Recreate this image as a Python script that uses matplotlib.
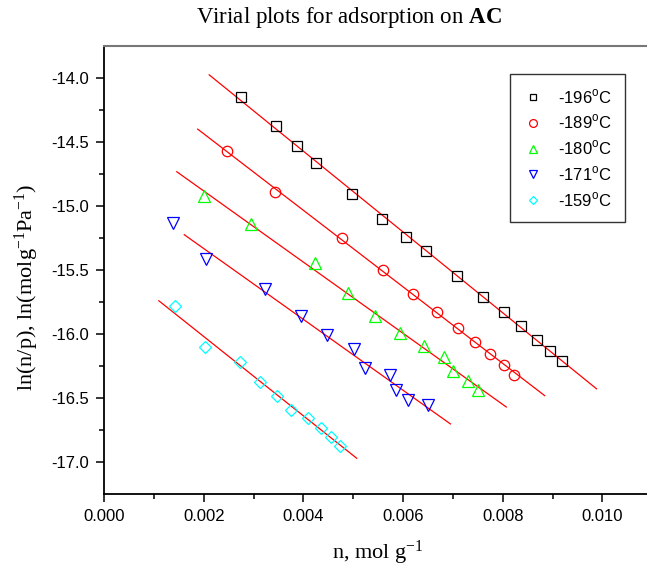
import numpy as np
import matplotlib
matplotlib.use('Agg')
import matplotlib.pyplot as plt

plt.rcParams['font.family'] = 'Liberation Sans'
plt.rcParams['mathtext.fontset'] = 'custom'
plt.rcParams['mathtext.rm'] = 'Liberation Serif'
plt.rcParams['mathtext.bf'] = 'Liberation Serif:bold'
plt.rcParams['mathtext.sf'] = 'Liberation Sans'

# data: n (mol/g) and ln(n/p)
n_196 = [0.00275, 0.00345, 0.00388, 0.00425, 0.00498, 0.00557, 0.00606, 0.00645,
         0.00709, 0.00761, 0.00802, 0.00837, 0.00869, 0.00895, 0.00919]
ln_196 = [-14.150, -14.375, -14.534, -14.661, -14.906, -15.098, -15.239, -15.354,
          -15.549, -15.708, -15.830, -15.940, -16.044, -16.130, -16.208]

n_189 = [0.00246, 0.00344, 0.00477, 0.00559, 0.00619, 0.00668, 0.00711, 0.00745,
         0.00775, 0.00802, 0.00822]
ln_189 = [-14.570, -14.891, -15.250, -15.502, -15.684, -15.830, -15.950, -16.065,
          -16.156, -16.239, -16.317]

n_180 = [0.00201, 0.00295, 0.00423, 0.00490, 0.00544, 0.00594, 0.00641, 0.00682,
         0.00700, 0.00730, 0.00750]
ln_180 = [-14.924, -15.138, -15.445, -15.680, -15.862, -15.992, -16.096, -16.180,
          -16.291, -16.364, -16.440]

n_171 = [0.00139, 0.00205, 0.00322, 0.00395, 0.00447, 0.00502, 0.00524, 0.00574,
         0.00586, 0.00610, 0.00650]
ln_171 = [-15.133, -15.415, -15.645, -15.858, -16.010, -16.117, -16.263, -16.323,
          -16.440, -16.518, -16.557]

n_159 = [0.00142, 0.00203, 0.00272, 0.00312, 0.00348, 0.00375, 0.00410, 0.00436,
         0.00456, 0.00474]
ln_159 = [-15.784, -16.102, -16.222, -16.372, -16.482, -16.594, -16.656, -16.731,
          -16.805, -16.872]

# x range covered by each fitted line
fit_start = [0.00211, 0.00188, 0.00146, 0.00161, 0.00110]
fit_end = [0.00988, 0.00884, 0.00807, 0.00695, 0.00507]

labels = ['-196$^{\\mathsf{o}}$C', '-189$^{\\mathsf{o}}$C', '-180$^{\\mathsf{o}}$C',
          '-171$^{\\mathsf{o}}$C', '-159$^{\\mathsf{o}}$C']
series = [(n_196, ln_196), (n_189, ln_189), (n_180, ln_180), (n_171, ln_171), (n_159, ln_159)]
markers = ['s', 'o', '^', 'v', 'D']
sizes = [6.5, 7.5, 8, 8, 6]
colors = ['black', '#ff0000', '#00ff00', '#0000ff', '#00ffff']

fig = plt.figure(figsize=(6.47, 5.72), dpi=100)
# right spine falls just outside the picture, as in the original crop
ax = fig.add_axes([104 / 647, 1 - 494 / 572, (650 - 104) / 647, (494 - 46) / 572])

for i in range(len(series)):
    x, y = series[i]
    ax.plot(x, y, linestyle='none', marker=markers[i], ms=sizes[i], mfc='none',
            mec=colors[i], mew=0.9, label=labels[i], zorder=3)
    k, b = np.polyfit(x, y, 1)
    xs = np.array([fit_start[i], fit_end[i]])
    ax.plot(xs, k * xs + b, color='#ff0000', lw=0.9, zorder=2)

ax.set_xlim(0, 0.010953)
ax.set_ylim(-17.25, -13.75)
ax.set_xticks([0.000, 0.002, 0.004, 0.006, 0.008, 0.010])
ax.set_xticklabels(['0.000', '0.002', '0.004', '0.006', '0.008', '0.010'])
ax.set_xticks([0.001, 0.003, 0.005, 0.007, 0.009], minor=True)
ax.set_yticks([-14.0, -14.5, -15.0, -15.5, -16.0, -16.5, -17.0])
ax.set_yticklabels(['-14.0', '-14.5', '-15.0', '-15.5', '-16.0', '-16.5', '-17.0'])
ax.set_yticks([-14.25, -14.75, -15.25, -15.75, -16.25, -16.75], minor=True)
ax.tick_params(which='major', direction='out', length=6, width=1.1, labelsize=12, pad=5)
ax.tick_params(which='minor', direction='out', length=3.5, width=1.1)

for s in ['left', 'bottom']:
    ax.spines[s].set_linewidth(1.3)
ax.spines['top'].set_color('#777777')
ax.spines['top'].set_linewidth(1.5)
ax.spines['right'].set_visible(False)

leg = ax.legend(loc='upper left', bbox_to_anchor=(510 / 647, 1 - 74 / 572),
                bbox_transform=fig.transFigure, fontsize=12, markerscale=0.75,
                frameon=True, fancybox=False, handlelength=1.2, handletextpad=0.85,
                labelspacing=0.42, borderpad=0.8, borderaxespad=0)
leg.get_frame().set_edgecolor('black')
leg.get_frame().set_linewidth(1.0)

fig.text(349 / 647, 1 - 17 / 572, 'Virial plots for adsorption on $\\mathbf{AC}$',
         ha='center', va='center', family='Liberation Serif', fontsize=16.5)
fig.text(378 / 647, 1 - 553 / 572, 'n, mol $\\rm g^{-1}$', ha='center', va='center',
         family='Liberation Serif', fontsize=16)
fig.text(27 / 647, 1 - 287 / 572, 'ln(n/p), ln(mol$\\rm g^{-1}Pa^{-1}$)',
         ha='center', va='center', rotation=90, family='Liberation Serif', fontsize=16)

fig.savefig('out.png', dpi=100)
